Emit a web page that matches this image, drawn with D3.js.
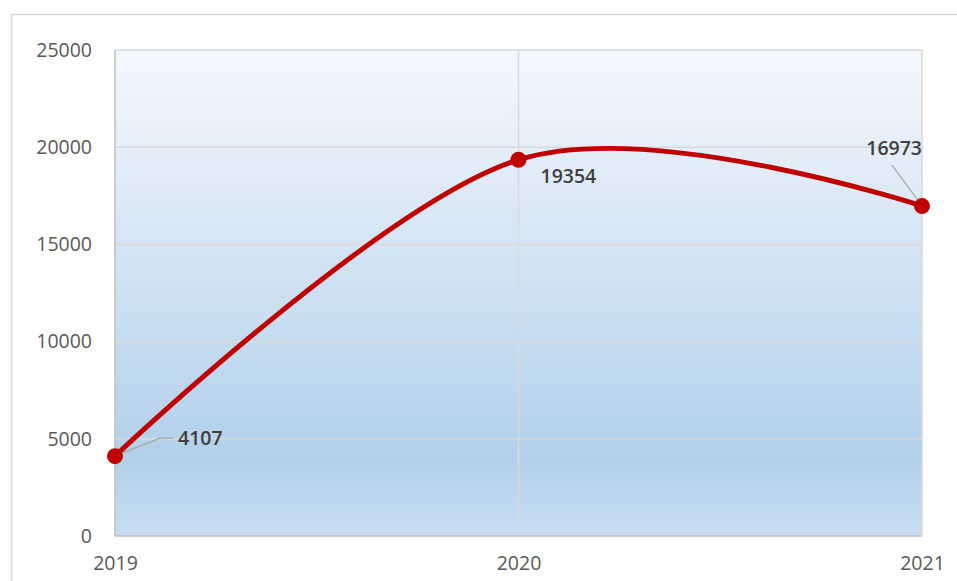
<!DOCTYPE html>
<html>
<head>
<meta charset="utf-8">
<script src="https://cdn.jsdelivr.net/npm/d3@7/dist/d3.min.js"></script>
<style>
  html, body { margin: 0; padding: 0; background: #fff; }
  svg { display: block; }
</style>
</head>
<body>
<svg id="chart" width="957" height="581"></svg>
<script>
// Yearly totals
const years = ["2019", "2020", "2021"];
const values = [4107, 19354, 16973];
const yTicks = [0, 5000, 10000, 15000, 20000, 25000];

const W = 957, H = 581;
const plot = { left: 115, top: 50, right: 922, bottom: 536 };

const svg = d3.select("#chart");

// outer chart frame
svg.append("rect")
  .attr("x", 11.5).attr("y", 14.5)
  .attr("width", W + 20).attr("height", H + 20)
  .attr("fill", "#fff").attr("stroke", "#d9d9d9").attr("stroke-width", 1.5);

const defs = svg.append("defs");
const grad = defs.append("linearGradient")
  .attr("id", "plotBg").attr("x1", 0).attr("y1", 0).attr("x2", 0).attr("y2", 1);
grad.append("stop").attr("offset", "0%").attr("stop-color", "#f4f8fd");
grad.append("stop").attr("offset", "84%").attr("stop-color", "#b2d0ea");
grad.append("stop").attr("offset", "100%").attr("stop-color", "#c8ddf1");

const x = d3.scalePoint().domain(years).range([plot.left, plot.right]);
const y = d3.scaleLinear().domain([0, 25000]).range([plot.bottom, plot.top]);

// plot background
svg.append("rect")
  .attr("x", plot.left).attr("y", plot.top)
  .attr("width", plot.right - plot.left).attr("height", plot.bottom - plot.top)
  .attr("fill", "url(#plotBg)");

// horizontal gridlines
svg.append("g")
  .selectAll("line").data(yTicks.slice(1)).join("line")
  .attr("x1", plot.left).attr("x2", plot.right)
  .attr("y1", d => y(d)).attr("y2", d => y(d))
  .attr("stroke", "#d9d9d9").attr("stroke-width", 1.5);

// vertical gridlines
svg.append("g")
  .selectAll("line").data(years.slice(1)).join("line")
  .attr("x1", d => x(d)).attr("x2", d => x(d))
  .attr("y1", plot.top).attr("y2", plot.bottom)
  .attr("stroke", "#d9d9d9").attr("stroke-width", 1.5);

// axes lines
svg.append("line")
  .attr("x1", plot.left).attr("x2", plot.left)
  .attr("y1", plot.top).attr("y2", plot.bottom)
  .attr("stroke", "#bfbfbf").attr("stroke-width", 1.5);
svg.append("line")
  .attr("x1", plot.left).attr("x2", plot.right)
  .attr("y1", plot.bottom).attr("y2", plot.bottom)
  .attr("stroke", "#bfbfbf").attr("stroke-width", 1.5);

const font = "'Open Sans', 'Liberation Sans', sans-serif";

// y axis labels
const yAxis = d3.axisLeft(y).tickValues(yTicks).tickSize(0).tickPadding(23).tickFormat(d3.format("d"));
const yg = svg.append("g").attr("transform", `translate(${plot.left},0)`).call(yAxis);
yg.select(".domain").remove();
yg.selectAll("text")
  .attr("font-family", font).attr("font-size", 19.5).attr("fill", "#595959");

// x axis labels
const xAxis = d3.axisBottom(x).tickSize(0).tickPadding(20);
const xg = svg.append("g").attr("transform", `translate(0,${plot.bottom})`).call(xAxis);
xg.select(".domain").remove();
xg.selectAll("text")
  .attr("font-family", font).attr("font-size", 19.5).attr("fill", "#595959");

// smoothed line
const pts = years.map((yr, i) => [x(yr), y(values[i])]);
const line = d3.line().curve(d3.curveCardinal.tension(0));
svg.append("path")
  .attr("d", line(pts))
  .attr("fill", "none").attr("stroke", "#c00000")
  .attr("stroke-width", 5).attr("stroke-linecap", "round");

// leader lines for labels
const leaders = [
  [[x("2019") + 2, y(values[0]) - 1], [x("2019") + 45, y(values[0]) - 18], [x("2019") + 58, y(values[0]) - 18]],
  null,
  [[x("2021") - 2, y(values[2]) - 3], [x("2021") - 30, y(values[2]) - 41]]
];
svg.append("g").selectAll("path").data(leaders.filter(d => d)).join("path")
  .attr("d", d => d3.line()(d))
  .attr("fill", "none").attr("stroke", "#a6a6a6").attr("stroke-width", 1.2);

// markers
svg.append("g").selectAll("circle").data(pts).join("circle")
  .attr("cx", d => d[0]).attr("cy", d => d[1]).attr("r", 8)
  .attr("fill", "#c00000");

// data labels
const labelOffsets = [[63, -18, "start"], [22, 16, "start"], [0, -58, "end"]];
svg.append("g").selectAll("text").data(values).join("text")
  .attr("x", (d, i) => pts[i][0] + labelOffsets[i][0])
  .attr("y", (d, i) => pts[i][1] + labelOffsets[i][1])
  .attr("dy", "0.35em")
  .attr("text-anchor", (d, i) => labelOffsets[i][2])
  .attr("font-family", font).attr("font-size", 19.5).attr("font-weight", 600)
  .attr("fill", "#404040")
  .text(d => d);
</script>
</body>
</html>
